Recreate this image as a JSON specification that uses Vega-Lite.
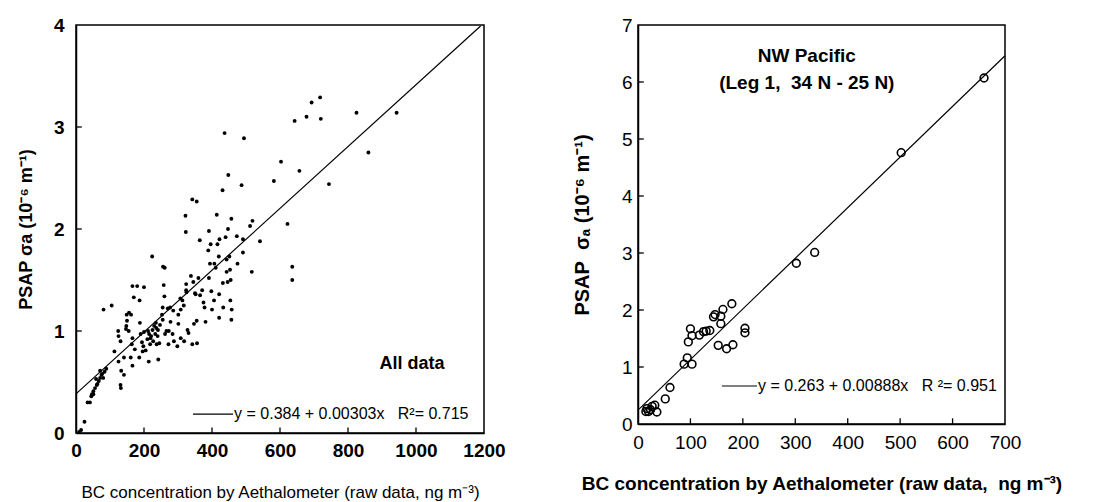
{
  "$schema": "https://vega.github.io/schema/vega-lite/v6.json",
  "background": "white",
  "padding": {"left": 16, "top": 15, "right": 5, "bottom": 5},
  "bounds": "flush",
  "spacing": 154,
  "config": {
    "font": "Liberation Sans",
    "view": {"stroke": "black", "strokeWidth": 1.5},
    "axis": {"domainColor": "black", "domainWidth": 1.5, "ticks": false, "labelColor": "black", "titleColor": "black", "grid": false, "labelFlush": false, "labelOverlap": false, "format": "d"}
  },
  "datasets": {
    "all": [
      {"bc":718,"psap":3.29},{"bc":693,"psap":3.24},{"bc":678,"psap":3.10},{"bc":720,"psap":3.08},{"bc":643,"psap":3.06},{"bc":825,"psap":3.14},{"bc":943,"psap":3.14},{"bc":437,"psap":2.94},{"bc":494,"psap":2.89},{"bc":860,"psap":2.75},
      {"bc":603,"psap":2.66},{"bc":657,"psap":2.57},{"bc":448,"psap":2.53},{"bc":582,"psap":2.47},{"bc":744,"psap":2.44},{"bc":487,"psap":2.43},{"bc":431,"psap":2.38},{"bc":342,"psap":2.29},{"bc":355,"psap":2.27},{"bc":322,"psap":2.13},
      {"bc":414,"psap":2.14},{"bc":457,"psap":2.10},{"bc":519,"psap":2.08},{"bc":512,"psap":2.03},{"bc":622,"psap":2.05},{"bc":323,"psap":1.97},{"bc":391,"psap":1.98},{"bc":447,"psap":2.00},{"bc":473,"psap":1.93},{"bc":440,"psap":1.92},
      {"bc":422,"psap":1.90},{"bc":364,"psap":1.89},{"bc":491,"psap":1.90},{"bc":541,"psap":1.88},{"bc":396,"psap":1.85},{"bc":416,"psap":1.85},{"bc":389,"psap":1.79},{"bc":491,"psap":1.77},{"bc":224,"psap":1.73},{"bc":420,"psap":1.73},
      {"bc":451,"psap":1.73},{"bc":443,"psap":1.70},{"bc":394,"psap":1.66},{"bc":407,"psap":1.66},{"bc":475,"psap":1.66},{"bc":411,"psap":1.62},{"bc":443,"psap":1.58},{"bc":517,"psap":1.58},{"bc":636,"psap":1.63},{"bc":636,"psap":1.50},
      {"bc":256,"psap":1.63},{"bc":261,"psap":1.62},{"bc":338,"psap":1.54},{"bc":360,"psap":1.52},{"bc":391,"psap":1.52},{"bc":453,"psap":1.60},{"bc":455,"psap":1.50},{"bc":446,"psap":1.48},{"bc":432,"psap":1.47},{"bc":324,"psap":1.46},
      {"bc":345,"psap":1.48},{"bc":258,"psap":1.45},{"bc":166,"psap":1.44},{"bc":180,"psap":1.44},{"bc":200,"psap":1.43},{"bc":324,"psap":1.40},{"bc":371,"psap":1.40},{"bc":398,"psap":1.39},{"bc":352,"psap":1.36},{"bc":421,"psap":1.36},
      {"bc":170,"psap":1.33},{"bc":187,"psap":1.30},{"bc":260,"psap":1.34},{"bc":325,"psap":1.38},{"bc":307,"psap":1.32},{"bc":406,"psap":1.30},{"bc":454,"psap":1.30},{"bc":375,"psap":1.28},{"bc":317,"psap":1.25},{"bc":81,"psap":1.21},
      {"bc":105,"psap":1.25},{"bc":255,"psap":1.23},{"bc":277,"psap":1.23},{"bc":286,"psap":1.20},{"bc":378,"psap":1.23},{"bc":400,"psap":1.21},{"bc":433,"psap":1.23},{"bc":458,"psap":1.21},{"bc":421,"psap":1.13},{"bc":457,"psap":1.11},
      {"bc":149,"psap":1.16},{"bc":162,"psap":1.16},{"bc":150,"psap":1.10},{"bc":253,"psap":1.16},{"bc":301,"psap":1.16},{"bc":308,"psap":1.21},{"bc":381,"psap":1.09},{"bc":355,"psap":1.10},{"bc":347,"psap":1.07},{"bc":188,"psap":1.08},
      {"bc":278,"psap":1.09},{"bc":255,"psap":1.11},{"bc":301,"psap":1.07},{"bc":328,"psap":1.01},{"bc":331,"psap":0.98},{"bc":266,"psap":1.00},{"bc":273,"psap":1.00},{"bc":241,"psap":1.01},{"bc":225,"psap":1.01},{"bc":212,"psap":1.00},
      {"bc":200,"psap":0.99},{"bc":147,"psap":1.02},{"bc":155,"psap":1.00},{"bc":124,"psap":1.00},{"bc":125,"psap":0.95},{"bc":131,"psap":0.90},{"bc":166,"psap":0.93},{"bc":194,"psap":0.89},{"bc":215,"psap":0.97},{"bc":219,"psap":0.93},
      {"bc":227,"psap":0.90},{"bc":237,"psap":0.87},{"bc":245,"psap":0.88},{"bc":205,"psap":0.81},{"bc":196,"psap":0.80},{"bc":173,"psap":0.82},{"bc":113,"psap":0.80},{"bc":125,"psap":0.70},{"bc":141,"psap":0.74},{"bc":161,"psap":0.74},
      {"bc":186,"psap":0.74},{"bc":214,"psap":0.70},{"bc":242,"psap":0.72},{"bc":166,"psap":0.66},{"bc":133,"psap":0.61},{"bc":141,"psap":0.57},{"bc":131,"psap":0.47},{"bc":132,"psap":0.44},{"bc":272,"psap":0.87},{"bc":288,"psap":0.90},
      {"bc":298,"psap":0.85},{"bc":318,"psap":0.90},{"bc":342,"psap":0.87},{"bc":356,"psap":0.88},{"bc":89,"psap":0.63},{"bc":75,"psap":0.57},{"bc":71,"psap":0.54},{"bc":67,"psap":0.51},{"bc":61,"psap":0.47},{"bc":56,"psap":0.44},
      {"bc":51,"psap":0.41},{"bc":47,"psap":0.38},{"bc":41,"psap":0.30},{"bc":34,"psap":0.30},{"bc":25,"psap":0.11},{"bc":15,"psap":0.03},{"bc":9,"psap":0.01},{"bc":71,"psap":0.61},{"bc":59,"psap":0.53},{"bc":51,"psap":0.38},
      {"bc":80,"psap":0.54},{"bc":221,"psap":0.95},{"bc":233,"psap":0.97},{"bc":218,"psap":0.87},{"bc":247,"psap":1.06},{"bc":235,"psap":1.08},{"bc":198,"psap":0.85},{"bc":164,"psap":0.87},{"bc":284,"psap":0.97},{"bc":262,"psap":0.97},
      {"bc":308,"psap":0.93},{"bc":45,"psap":0.36},{"bc":63,"psap":0.48},{"bc":77,"psap":0.58},{"bc":84,"psap":0.60},{"bc":148,"psap":1.05},{"bc":156,"psap":1.18},{"bc":230,"psap":1.05},{"bc":240,"psap":0.95},{"bc":210,"psap":0.92},
      {"bc":190,"psap":0.97},{"bc":365,"psap":1.35},{"bc":313,"psap":1.30},{"bc":350,"psap":1.37},{"bc":270,"psap":1.22},{"bc":236,"psap":1.03}
    ],
    "fitL": [{"bc": 0, "psap": 0.384}, {"bc": 1190, "psap": 3.99}],
    "legL": [{"x1": 344, "x2": 462, "y": 0.186, "label": "y = 0.384 + 0.00303x\u00a0\u00a0\u00a0R²= 0.715"}],
    "noteL": [{"x": 988, "y": 0.68, "label": "All data"}],
    "tickLx": [{"v": 200}, {"v": 400}, {"v": 600}, {"v": 800}, {"v": 1000}],
    "tickLy": [{"v": 1}, {"v": 2}, {"v": 3}],
    "nw": [
      {"bc":660,"psap":6.07},{"bc":502,"psap":4.76},{"bc":337,"psap":3.01},{"bc":302,"psap":2.82},{"bc":179,"psap":2.11},{"bc":162,"psap":2.01},{"bc":147,"psap":1.92},{"bc":158,"psap":1.89},{"bc":144,"psap":1.88},{"bc":158,"psap":1.76},
      {"bc":137,"psap":1.64},{"bc":130,"psap":1.63},{"bc":125,"psap":1.62},{"bc":117,"psap":1.56},{"bc":103,"psap":1.55},{"bc":100,"psap":1.67},{"bc":96,"psap":1.44},{"bc":204,"psap":1.68},{"bc":204,"psap":1.60},{"bc":153,"psap":1.38},
      {"bc":169,"psap":1.32},{"bc":181,"psap":1.39},{"bc":94,"psap":1.16},{"bc":88,"psap":1.05},{"bc":103,"psap":1.05},{"bc":61,"psap":0.64},{"bc":52,"psap":0.44},{"bc":32,"psap":0.33},{"bc":36,"psap":0.21},{"bc":17,"psap":0.27},
      {"bc":24,"psap":0.25},{"bc":20,"psap":0.22},{"bc":15,"psap":0.22},{"bc":27,"psap":0.31}
    ],
    "fitR": [{"bc": 2, "psap": 0.26}, {"bc": 700, "psap": 6.46}],
    "legR": [{"x1": 160, "x2": 227, "y": 0.667, "label": "y = 0.263 + 0.00888x\u00a0\u00a0\u00a0R ²= 0.951"}],
    "noteR": [{"x": 322, "y": 6.46, "label": "NW Pacific"}, {"x": 322, "y": 5.98, "label": "(Leg 1,\u00a0 34 N - 25 N)"}],
    "tickRx": [{"v": 100}, {"v": 200}, {"v": 300}, {"v": 400}, {"v": 500}, {"v": 600}],
    "tickRy": [{"v": 1}, {"v": 2}, {"v": 3}, {"v": 4}, {"v": 5}, {"v": 6}]
  },
  "hconcat": [
    {
      "width": 408,
      "height": 408,
      "layer": [
        {
          "data": {"name": "all"},
          "mark": {"type": "point", "filled": true, "shape": "circle", "size": 15, "color": "black", "opacity": 1},
          "encoding": {
            "x": {"field": "bc", "type": "quantitative", "scale": {"domain": [0, 1200], "nice": false},
              "axis": {"title": "BC concentration by Aethalometer (raw data, ng m⁻³)", "values": [0, 200, 400, 600, 800, 1000, 1200], "labelPadding": 8, "labelFontSize": 19, "labelFontWeight": "bold", "titleFontSize": 17, "titleFontWeight": "normal", "titlePadding": 24}},
            "y": {"field": "psap", "type": "quantitative", "scale": {"domain": [0, 4], "nice": false},
              "axis": {"title": "PSAP σa (10⁻⁶ m⁻¹)", "values": [0, 1, 2, 3, 4], "labelPadding": 12, "labelFontSize": 19, "labelFontWeight": "bold", "titleFontSize": 18, "titleFontWeight": "bold", "titlePadding": 18}}
          }
        },
        {
          "data": {"name": "fitL"},
          "mark": {"type": "line", "color": "black", "strokeWidth": 1.2},
          "encoding": {"x": {"field": "bc", "type": "quantitative"}, "y": {"field": "psap", "type": "quantitative"}}
        },
        {
          "data": {"name": "tickLx"},
          "mark": {"type": "rule", "color": "black", "strokeWidth": 1.3},
          "encoding": {"x": {"field": "v", "type": "quantitative"}, "y": {"datum": 0}, "y2": {"datum": 0.055}}
        },
        {
          "data": {"name": "tickLy"},
          "mark": {"type": "rule", "color": "black", "strokeWidth": 1.3},
          "encoding": {"y": {"field": "v", "type": "quantitative"}, "x": {"datum": 0}, "x2": {"datum": 17}}
        },
        {
          "data": {"name": "legL"},
          "mark": {"type": "rule", "color": "black", "strokeWidth": 1.2},
          "encoding": {"x": {"field": "x1", "type": "quantitative"}, "x2": {"field": "x2"}, "y": {"field": "y", "type": "quantitative"}}
        },
        {
          "data": {"name": "legL"},
          "mark": {"type": "text", "align": "left", "baseline": "middle", "fontSize": 16, "color": "black", "dx": 1},
          "encoding": {"x": {"field": "x2", "type": "quantitative"}, "y": {"field": "y", "type": "quantitative"}, "text": {"field": "label"}}
        },
        {
          "data": {"name": "noteL"},
          "mark": {"type": "text", "align": "center", "baseline": "middle", "fontSize": 18, "fontWeight": "bold", "color": "black"},
          "encoding": {"x": {"field": "x", "type": "quantitative"}, "y": {"field": "y", "type": "quantitative"}, "text": {"field": "label"}}
        }
      ]
    },
    {
      "width": 367,
      "height": 399,
      "layer": [
        {
          "data": {"name": "nw"},
          "mark": {"type": "point", "filled": false, "shape": "circle", "size": 60, "color": "black", "strokeWidth": 1.6, "opacity": 1},
          "encoding": {
            "x": {"field": "bc", "type": "quantitative", "scale": {"domain": [0, 700], "nice": false},
              "axis": {"title": "BC concentration by Aethalometer (raw data,\u00a0 ng m⁻³)", "values": [0, 100, 200, 300, 400, 500, 600, 700], "labelPadding": 9, "labelFontSize": 19, "labelFontWeight": "normal", "titleFontSize": 19, "titleFontWeight": "bold", "titlePadding": 22}},
            "y": {"field": "psap", "type": "quantitative", "scale": {"domain": [0, 7], "nice": false},
              "axis": {"title": "PSAP\u00a0 σₐ (10⁻⁶ m⁻¹)", "values": [0, 1, 2, 3, 4, 5, 6, 7], "labelPadding": 6, "labelFontSize": 19, "labelFontWeight": "normal", "titleFontSize": 20, "titleFontWeight": "bold", "titlePadding": 29}}
          }
        },
        {
          "data": {"name": "fitR"},
          "mark": {"type": "line", "color": "black", "strokeWidth": 1.2},
          "encoding": {"x": {"field": "bc", "type": "quantitative"}, "y": {"field": "psap", "type": "quantitative"}}
        },
        {
          "data": {"name": "tickRx"},
          "mark": {"type": "rule", "color": "black", "strokeWidth": 1.3},
          "encoding": {"x": {"field": "v", "type": "quantitative"}, "y": {"datum": 0}, "y2": {"datum": 0.1}}
        },
        {
          "data": {"name": "tickRy"},
          "mark": {"type": "rule", "color": "black", "strokeWidth": 1.3},
          "encoding": {"y": {"field": "v", "type": "quantitative"}, "x": {"datum": 0}, "x2": {"datum": 11}}
        },
        {
          "data": {"name": "legR"},
          "mark": {"type": "rule", "color": "black", "strokeWidth": 1.2},
          "encoding": {"x": {"field": "x1", "type": "quantitative"}, "x2": {"field": "x2"}, "y": {"field": "y", "type": "quantitative"}}
        },
        {
          "data": {"name": "legR"},
          "mark": {"type": "text", "align": "left", "baseline": "middle", "fontSize": 16, "color": "black", "dx": 1},
          "encoding": {"x": {"field": "x2", "type": "quantitative"}, "y": {"field": "y", "type": "quantitative"}, "text": {"field": "label"}}
        },
        {
          "data": {"name": "noteR"},
          "mark": {"type": "text", "align": "center", "baseline": "middle", "fontSize": 19, "fontWeight": "bold", "color": "black"},
          "encoding": {"x": {"field": "x", "type": "quantitative"}, "y": {"field": "y", "type": "quantitative"}, "text": {"field": "label"}}
        }
      ]
    }
  ]
}
